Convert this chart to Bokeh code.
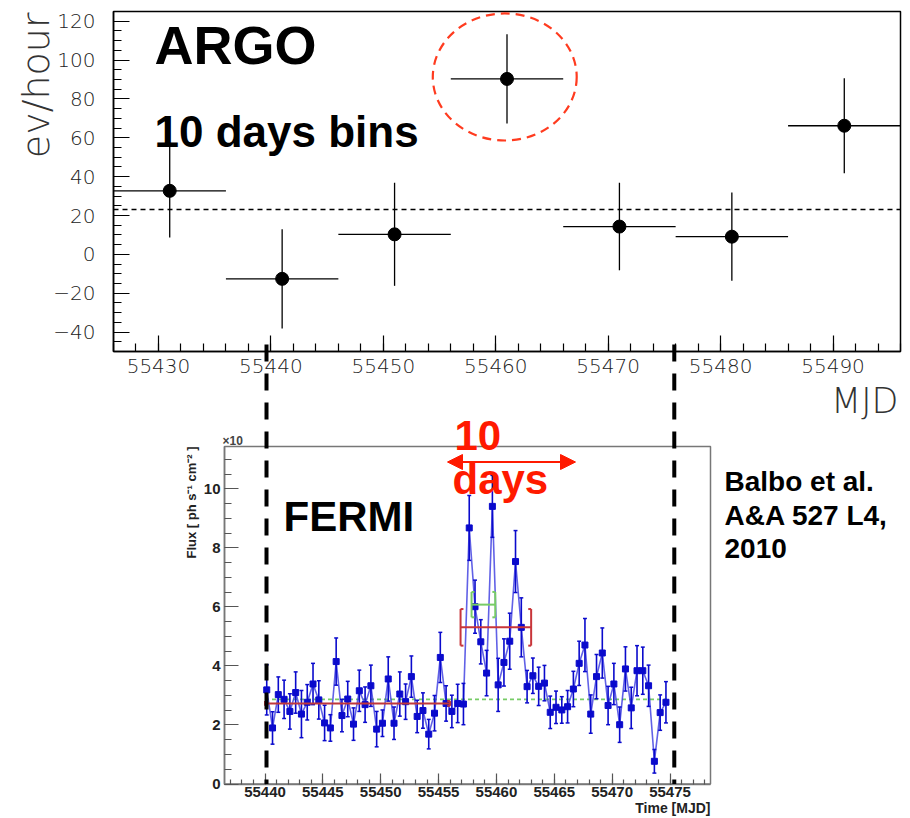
import numpy as np
from bokeh.plotting import figure
from bokeh.models import Range1d, LinearAxis, FixedTicker, Arrow, NormalHead
from bokeh.core.properties import value
from bokeh.embed import file_html
from bokeh.resources import INLINE

# ---------------- data ----------------
# ARGO-YBJ, 10 days bins
argo_mjd = [55431, 55441, 55451, 55461, 55471, 55481, 55491]
argo_rate = [32.7, -12.6, 10.3, 90.3, 14.3, 9.1, 66.2]
argo_err = [24.0, 25.5, 26.5, 23.0, 22.5, 22.7, 24.5]
argo_bin_half = 5.0
argo_mean = 23.1
argo_flare_mjd, argo_flare_rate = 55460.8, 91.3
argo_flare_w, argo_flare_h = 12.8, 65.4

# Fermi-LAT light curve (12 h bins)
fermi_t0 = 55440.15
fermi_step = 0.5
fermi_flux = [3.19, 1.90, 3.03, 2.87, 2.46, 3.10, 2.37, 2.77, 3.39, 2.85,
              2.07, 1.90, 4.15, 2.32, 2.88, 2.03, 3.16, 2.69, 3.33, 1.86,
              2.06, 3.56, 2.06, 3.05, 2.79, 3.64, 2.29, 2.49, 1.69, 2.40,
              4.29, 2.73, 2.46, 2.73, 2.71, 8.68, 6.01, 4.82, 3.76, 9.41,
              3.36, 4.12, 4.84, 7.54, 5.31, 3.30, 3.67, 3.31, 3.42, 2.43,
              2.60, 2.51, 2.62, 3.22, 4.09, 4.71, 2.37, 3.64, 4.44, 2.66,
              3.39, 2.01, 3.90, 2.58, 3.84, 3.84, 3.33, 0.77, 2.42, 2.77]
fermi_err = [0.85, 0.55, 0.60, 0.65, 0.60, 0.70, 0.80, 0.60, 0.70, 0.65,
             0.60, 0.45, 0.80, 0.55, 0.60, 0.55, 0.70, 0.60, 0.70, 0.60,
             0.45, 0.75, 0.55, 0.75, 0.60, 0.70, 0.55, 0.60, 0.50, 0.60,
             0.85, 0.60, 0.55, 0.65, 0.70, 1.10, 0.90, 0.75, 0.77, 1.05,
             0.90, 0.80, 0.95, 1.05, 1.00, 0.55, 0.60, 0.65, 0.60, 0.55,
             0.55, 0.45, 0.55, 0.60, 0.75, 0.90, 0.65, 0.75, 0.85, 0.65,
             0.70, 0.60, 0.75, 0.70, 0.85, 0.80, 0.70, 0.40, 0.60, 0.70]
fermi_mjd = [fermi_t0 + fermi_step * i for i in range(len(fermi_flux))]

fermi_base, fermi_base_span = 2.87, (55440.0, 55474.7)
fermi_pre, fermi_pre_span, fermi_pre_err = 2.73, (55440.0, 55456.0), 0.08
fermi_flare, fermi_flare_span, fermi_flare_err = 5.31, (55456.9, 55463.0), 0.62
fermi_peak, fermi_peak_span, fermi_peak_err = 6.08, (55457.85, 55459.9), 0.43

window_mjd = [55440.13, 55475.37]

# ticks
argo_xticks = [55430, 55440, 55450, 55460, 55470, 55480, 55490]
argo_xminor = list(range(55426, 55497, 2))
argo_yticks = [-40, -20, 0, 20, 40, 60, 80, 100, 120]
argo_yminor = list(range(-50, 126, 5))
fermi_xticks = [55440, 55445, 55450, 55455, 55460, 55465, 55470, 55475]
fermi_xminor = list(range(55437, 55479))
fermi_yticks = [0, 2, 4, 6, 8, 10]
fermi_yminor = [v * 0.5 for v in range(0, 23)]

# ---------------- layout helpers ----------------
W, H = 910, 818


def lin(d0, p0, d1, p1, P):
    return d0 + (P - p0) * (d1 - d0) / (p1 - p0)


# ARGO box: pixels x 113..900, y 11..351
AX = (55426, 113, 55496, 900)
AY = (-50, 351, 125, 11)
# Fermi box: pixels x 224..710, y 446..783.5
FX = (55436.5, 224, 55478.5, 710)
FY = (0.0, 783.5, 11.44, 446)


def ax(px): return lin(*AX, px)
def ay(py): return lin(*AY, py)
def fx(px): return lin(*FX, px)
def fy(py): return lin(*FY, py)


BL = 0.35  # empirical baseline shift (fraction of font size)

p = figure(width=W, height=H, x_range=Range1d(fx(0), fx(W)), y_range=Range1d(fy(H), fy(0)),
           x_axis_type=None, y_axis_type=None, min_border=0, toolbar_location=None,
           output_backend="svg", outline_line_color=None, background_fill_color="white",
           border_fill_color="white")
p.extra_x_ranges = {"argo": Range1d(ax(0), ax(W))}
p.extra_y_ranges = {"argo": Range1d(ay(H), ay(0))}
A = dict(x_range_name="argo", y_range_name="argo")

LIGHT = "DejaVu Sans ExtraLight, DejaVu Sans Light, DejaVu Sans"

# ---------------- ARGO panel ----------------
p.quad(left=[55426], right=[55496], bottom=[-50], top=[125], fill_color=None,
       line_color="black", line_width=1.5, **A)
p.segment(x0=[55426], y0=[argo_mean], x1=[55496], y1=[argo_mean], line_color="black",
          line_width=1.3, line_dash="5 4", **A)
ar = np.array(argo_rate)
ae = np.array(argo_err)
am = np.array(argo_mjd, dtype=float)
p.segment(x0=am, y0=ar - ae, x1=am, y1=np.minimum(ar + ae, 125), line_color="black",
          line_width=1.3, **A)
p.segment(x0=np.maximum(am - argo_bin_half, 55426), y0=ar,
          x1=np.minimum(am + argo_bin_half, 55496), y1=ar, line_color="black", line_width=1.3, **A)
p.scatter(am, ar, size=13, marker="circle", color="black", **A)
p.ellipse(x=[argo_flare_mjd], y=[argo_flare_rate], width=[argo_flare_w], height=[argo_flare_h],
          fill_color=None, line_color="#ff3b1f", line_width=2.2, line_dash="9 6", **A)

yax = LinearAxis(fixed_location=55426, bounds=(-50, 125),
                 ticker=FixedTicker(ticks=argo_yticks, minor_ticks=argo_yminor), **A)
xax = LinearAxis(fixed_location=-50, bounds=(55426, 55496),
                 ticker=FixedTicker(ticks=argo_xticks, minor_ticks=argo_xminor), **A)
yax.major_label_overrides = {-40: "\u221240", -20: "\u221220"}
for a in (yax, xax):
    a.axis_line_color = "black"
    a.axis_line_width = 1.5
    a.major_tick_in = 16
    a.major_tick_out = 0
    a.minor_tick_in = 8
    a.minor_tick_out = 0
    a.major_tick_line_color = "black"
    a.minor_tick_line_color = "black"
    a.major_tick_line_width = 1.2
    a.minor_tick_line_width = 1.2
    a.major_label_text_font = LIGHT
    a.major_label_text_font_size = "20px"
    a.major_label_text_color = "#222222"
yax.major_label_standoff = 18
xax.major_label_standoff = 7
p.add_layout(yax, "left")
p.add_layout(xax, "below")


def txt(xpx, ypx, s, fs, font="Liberation Sans", style="bold", color="black", align="left",
        angle=0.0, rn=None):
    if angle:
        xx, yy = xpx - BL * fs, ypx
    else:
        xx, yy = xpx, ypx - BL * fs
    if rn == "argo":
        X, Y, kw = ax(xx), ay(yy), A
    else:
        X, Y, kw = fx(xx), fy(yy), {}
    p.text(x=[X], y=[Y], text=[s], angle=angle, text_align=align, text_baseline="alphabetic",
           text_font=value(font), text_font_style=value(style),
           text_font_size=value(f"{fs}px"), text_color=color, **kw)


txt(49, 12, "ev/hour", 38, font=LIGHT, style="normal", color="#333333", align="right",
    angle=np.pi / 2, rn="argo")
txt(898, 413, "MJD", 35, font=LIGHT, style="normal", color="#333333", align="right", rn="argo")
txt(154, 63, "ARGO", 54, rn="argo")
txt(154, 146, "10 days bins", 44, rn="argo")

# ---------------- Fermi panel ----------------
p.quad(left=[55436.5], right=[55478.5], bottom=[0], top=[11.44], fill_color=None,
       line_color="#777777", line_width=1.5)
p.segment(x0=[fermi_base_span[0]], y0=[fermi_base], x1=[fermi_base_span[1]], y1=[fermi_base],
          line_color="#77cc66", line_width=1.6, line_dash="4 3")

fm = np.array(fermi_mjd)
ff = np.array(fermi_flux)
fe = np.array(fermi_err)
BLUE = "#0a0acc"
p.line(fm, ff, line_color="#3a3ae0", line_width=1.6, line_alpha=0.8)
p.segment(x0=fm, y0=ff - fe, x1=fm, y1=ff + fe, line_color=BLUE, line_width=1.6)
cap = 0.17
p.segment(x0=fm - cap, y0=ff + fe, x1=fm + cap, y1=ff + fe, line_color=BLUE, line_width=1.5)
p.segment(x0=fm - cap, y0=ff - fe, x1=fm + cap, y1=ff - fe, line_color=BLUE, line_width=1.5)
p.scatter(fm, ff, size=6, marker="square", color=BLUE)


def bracket_line(yv, span, err, color):
    x0, x1 = span
    p.segment(x0=[x0], y0=[yv], x1=[x1], y1=[yv], line_color=color, line_width=2)
    p.segment(x0=[x0, x1], y0=[yv - err, yv - err], x1=[x0, x1], y1=[yv + err, yv + err],
              line_color=color, line_width=2)
    t = 0.25
    p.segment(x0=[x0, x0, x1, x1], y0=[yv - err, yv + err, yv - err, yv + err],
              x1=[x0 + t, x0 + t, x1 - t, x1 - t], y1=[yv - err, yv + err, yv - err, yv + err],
              line_color=color, line_width=2)


bracket_line(fermi_pre, fermi_pre_span, fermi_pre_err, "#c0363a")
bracket_line(fermi_flare, fermi_flare_span, fermi_flare_err, "#c8353a")
bracket_line(fermi_peak, fermi_peak_span, fermi_peak_err, "#77cc66")

fyax = LinearAxis(fixed_location=55436.5, bounds=(0, 11.44),
                  ticker=FixedTicker(ticks=fermi_yticks, minor_ticks=fermi_yminor))
fxax = LinearAxis(fixed_location=0, bounds=(55436.5, 55478.5),
                  ticker=FixedTicker(ticks=fermi_xticks, minor_ticks=fermi_xminor))
for a in (fyax, fxax):
    a.axis_line_color = "#777777"
    a.axis_line_width = 1.5
    a.major_tick_out = 0
    a.minor_tick_out = 0
    a.major_tick_line_color = "#555555"
    a.minor_tick_line_color = "#555555"
    a.major_tick_line_width = 1.2
    a.minor_tick_line_width = 1.2
    a.major_label_text_font = "Liberation Sans"
    a.major_label_text_font_style = "bold"
    a.major_label_text_font_size = "15px"
    a.major_label_text_color = "#222222"
fyax.major_tick_in = 14
fyax.minor_tick_in = 7
fxax.major_tick_in = 11
fxax.minor_tick_in = 5
fyax.major_label_standoff = 4
fxax.major_label_standoff = 3
p.add_layout(fyax, "left")
p.add_layout(fxax, "below")

txt(196, 446, "Flux [ ph s\u207b\u00b9 cm\u207b\u00b2 ]", 13, color="#222222", align="right",
    angle=np.pi / 2)
txt(710, 812, "Time [MJD]", 14, color="#222222", align="right")
txt(222, 445, "\u00d710", 12, color="#444444")
txt(283, 531, "FERMI", 42)

# red "10 days" annotation
p.add_layout(Arrow(x_start=fx(447), y_start=fy(461.5), x_end=fx(575), y_end=fy(461.5),
                   line_color="#ff1a00", line_width=2.2,
                   start=NormalHead(size=15, fill_color="#ff1a00", line_color="#ff1a00"),
                   end=NormalHead(size=15, fill_color="#ff1a00", line_color="#ff1a00")))
txt(454, 450, "10", 42, color="#ff1a00")
txt(452, 494, "days", 42, color="#ff1a00")

# reference
for ypx, s in zip([491, 525, 558], ["Balbo et al.", "A&A 527 L4,", "2010"]):
    txt(724, ypx, s, 28)

# black dashed window lines spanning both panels
wl = p.segment(x0=window_mjd, y0=[fy(344)] * 2, x1=window_mjd, y1=[0, 0],
               line_color="black", line_width=4, line_dash="17 12")
wl.level = "overlay"

open("out.html", "w").write(file_html(p, INLINE))
